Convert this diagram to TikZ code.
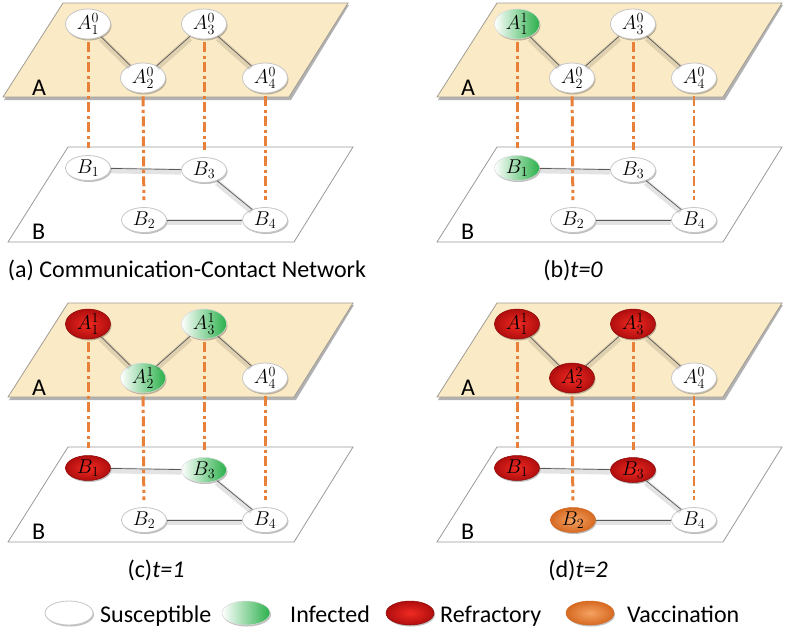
\RequirePackage{fix-cm}
\documentclass[tikz,border=0pt]{standalone}
\usepackage{fontspec}
\setmainfont{Carlito}
\usetikzlibrary{shapes.geometric,shadows}
\definecolor{planeA}{HTML}{FBEAC6}
\definecolor{planeAedge}{HTML}{A09C94}
\definecolor{dashor}{HTML}{E8803A}
\definecolor{infgreen}{HTML}{2AB04A}
\definecolor{redL}{HTML}{F02A22}
\definecolor{redD}{HTML}{B00E0E}
\definecolor{orL}{HTML}{F5A262}
\definecolor{orD}{HTML}{D66A22}
\tikzset{
  nd/.style={ellipse, minimum width=45pt, minimum height=25pt, inner sep=0pt,
    font=\fontsize{20}{20}\selectfont,
    drop shadow={shadow xshift=1pt, shadow yshift=-1.5pt, opacity=0.25, fill=black}},
  sus/.style={nd, fill=white, draw=gray!45, line width=0.8pt},
  inf/.style={nd, left color=white, right color=infgreen, draw=gray!30, line width=0.5pt},
  ref/.style={nd, inner color=redL, outer color=redD, draw=redD!80!black, line width=0.5pt},
  vac/.style={nd, inner color=orL, outer color=orD, draw=orD, line width=0.5pt},
  leg/.style={minimum width=48pt, minimum height=24pt},
  cc/.style={draw=dashor, line width=3pt, dash pattern=on 10pt off 3.5pt on 3pt off 3.5pt,
    shorten <=3pt, shorten >=7pt},
  ccthin/.style={cc, line width=1.4pt},
  edge/.style={draw=black!65, line width=0.7pt},
  eshadow/.style={draw=black, line width=6pt, opacity=0.11, transform canvas={yshift=-2pt}},
  lbl/.style={font=\fontsize{24}{24}\selectfont, inner sep=0pt},
  captext/.style={font=\fontsize{24}{24}\selectfont, inner sep=0pt},
}
\newcommand\planes[2]{%
  \fill[gray!60] ({69+#2},5) -- ({354+#2},5) -- ({296+#2},100) -- ({9+#2},100) -- cycle;
  \filldraw[fill=planeA, draw=planeAedge, line width=0.8pt]
    ({68+#2},3) -- ({353+#2},3) -- ({294+#2},97) -- ({8+#2},97) -- cycle;
  \filldraw[fill=white, draw=gray!80, line width=0.8pt]
    (68,147) -- (353,147) -- (294,242) -- (8,242) -- cycle;
  \node[lbl, anchor=base west] (#1LA) at (32,95) {A};
  \node[lbl, anchor=base west] (#1LB) at (32,239) {B};
}
\newcommand\links[1]{%
  \foreach \u/\v in {A1/A2,A2/A3,A3/A4,B1/B3,B3/B4,B4/B2}{
    \draw[eshadow] (#1\u) -- (#1\v);
    \draw[edge] (#1\u) -- (#1\v);
  }
}
\newcommand\vlinks[2]{%
  \draw[cc] (#1A1) -- (#1B1);
  \draw[cc] (#1A2) -- (#1B2);
  \draw[cc] (#1A3) -- (#1B3);
  \draw[#2] (#1A4) -- (#1B4);
}
\begin{document}
\begin{tikzpicture}[x=1pt, y=-1pt]
\useasboundingbox (0,0) rectangle (787,633);
% ---------- (a)
\begin{scope}
  \planes{a}{-5}
  \node[sus] (aA1) at (88,24) {$A_1^0$};
  \node[sus] (aA2) at (143,78) {$A_2^0$};
  \node[sus] (aA3) at (204,24) {$A_3^0$};
  \node[sus] (aA4) at (265,78) {$A_4^0$};
  \node[sus] (aB1) at (88,168) {$B_1$};
  \node[sus] (aB3) at (204,170) {$B_3$};
  \node[sus] (aB2) at (144,220) {$B_2$};
  \node[sus] (aB4) at (265,220) {$B_4$};
  \links{a}
  \vlinks{a}{cc}
  \node[captext, anchor=base] (acap) at (187,277) {(a) Communication-Contact Network};
\end{scope}
% ---------- (b)
\begin{scope}[shift={(429,0)}]
  \planes{b}{0}
  \node[inf] (bA1) at (88,24) {$A_1^1$};
  \node[sus] (bA2) at (143,78) {$A_2^0$};
  \node[sus] (bA3) at (204,24) {$A_3^0$};
  \node[sus] (bA4) at (265,78) {$A_4^0$};
  \node[inf] (bB1) at (88,168) {$B_1$};
  \node[sus] (bB3) at (204,170) {$B_3$};
  \node[sus] (bB2) at (144,220) {$B_2$};
  \node[sus] (bB4) at (265,220) {$B_4$};
  \links{b}
  \vlinks{b}{ccthin}
  \node[captext, anchor=base] (bcap) at (144,277) {(b)\textit{t=0}};
\end{scope}
% ---------- (c)
\begin{scope}[shift={(0,300)}]
  \planes{c}{0}
  \node[ref] (cA1) at (88,24) {$A_1^1$};
  \node[inf] (cA2) at (143,78) {$A_2^1$};
  \node[inf] (cA3) at (204,24) {$A_3^1$};
  \node[sus] (cA4) at (265,78) {$A_4^0$};
  \node[ref] (cB1) at (88,168) {$B_1$};
  \node[inf] (cB3) at (204,170) {$B_3$};
  \node[sus] (cB2) at (144,220) {$B_2$};
  \node[sus] (cB4) at (265,220) {$B_4$};
  \links{c}
  \vlinks{c}{cc}
  \node[captext, anchor=base] (ccap) at (156,277) {(c)\textit{t=1}};
\end{scope}
% ---------- (d)
\begin{scope}[shift={(429,300)}]
  \planes{d}{0}
  \node[ref] (dA1) at (88,24) {$A_1^1$};
  \node[ref] (dA2) at (143,78) {$A_2^2$};
  \node[ref] (dA3) at (204,24) {$A_3^1$};
  \node[sus] (dA4) at (265,78) {$A_4^0$};
  \node[ref] (dB1) at (88,168) {$B_1$};
  \node[ref] (dB3) at (204,170) {$B_3$};
  \node[vac] (dB2) at (144,220) {$B_2$};
  \node[sus] (dB4) at (265,220) {$B_4$};
  \links{d}
  \vlinks{d}{ccthin}
  \node[captext, anchor=base] (dcap) at (149,277) {(d)\textit{t=2}};
\end{scope}
% ---------- legend
\node[sus, leg] (lS) at (69,613) {};
\node[captext, anchor=base west] (tS) at (100,622) {Susceptible};
\node[inf, leg] (lI) at (246,613) {};
\node[captext, anchor=base west] (tI) at (290,622) {Infected};
\node[ref, leg] (lR) at (410,613) {};
\node[captext, anchor=base west] (tR) at (440,622) {Refractory};
\node[vac, leg] (lV) at (590,613) {};
\node[captext, anchor=base west] (tV) at (627,622) {Vaccination};
\end{tikzpicture}
\end{document}
